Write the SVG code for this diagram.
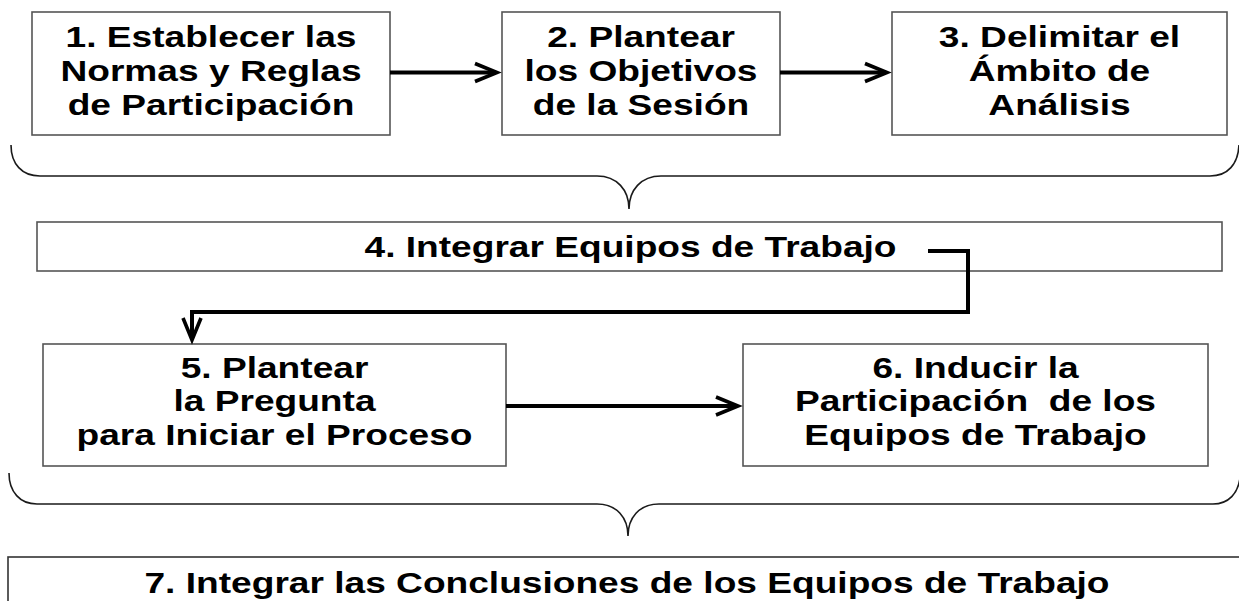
<svg xmlns="http://www.w3.org/2000/svg" width="1239" height="601" viewBox="0 0 1239 601">
<style>
  .box { fill: #ffffff; stroke: #555555; stroke-width: 1.6; }
  .lbl { font-family: "Liberation Sans", Arial, sans-serif; font-weight: bold; font-size: 29px; fill: #000000; text-anchor: middle; }
  .conn { fill: none; stroke: #000000; stroke-width: 4; }
  .brace { fill: none; stroke: #1a1a1a; stroke-width: 1.6; }
</style>
<defs>
  <marker id="arrow" markerUnits="userSpaceOnUse" markerWidth="34" markerHeight="26" refX="25" refY="13" orient="auto" overflow="visible">
    <path d="M4,4 L26,13 L4,22" fill="none" stroke="#000000" stroke-width="3.6"/>
  </marker>
</defs>
<rect x="0" y="0" width="1239" height="601" fill="#ffffff"/>

<g id="braces">
  <path class="brace" d="M11,145 C11,164 22,176 40,176 H597 C617,176 629,190 629,209 C629,190 641,176 661,176 H1210 C1228,176 1238,164 1239,145"/>
  <path class="brace" d="M9,473 C9,492 20,504 37,504 H597 C617,504 628,518 628,536 C628,518 639,504 659,504 H1213 C1229,504 1238,493 1240,478"/>
</g>

<g id="node1">
  <rect class="box" x="32" y="12" width="358" height="123"/>
  <text class="lbl" transform="matrix(1.28 0 0 1 211 0)"><tspan x="0" y="47">1. Establecer las</tspan><tspan x="0" y="81">Normas y Reglas</tspan><tspan x="0" y="115">de Participación</tspan></text>
</g>
<g id="node2">
  <rect class="box" x="502" y="12" width="278" height="123"/>
  <text class="lbl" transform="matrix(1.28 0 0 1 641 0)"><tspan x="0" y="47">2. Plantear</tspan><tspan x="0" y="81">los Objetivos</tspan><tspan x="0" y="115">de la Sesión</tspan></text>
</g>
<g id="node3">
  <rect class="box" x="892" y="12" width="335" height="123"/>
  <text class="lbl" transform="matrix(1.28 0 0 1 1059.5 0)"><tspan x="0" y="47">3. Delimitar el</tspan><tspan x="0" y="81">Ámbito de</tspan><tspan x="0" y="115">Análisis</tspan></text>
</g>
<g id="node4">
  <rect class="box" x="37" y="222" width="1185" height="49"/>
  <text class="lbl" transform="matrix(1.28 0 0 1 630.5 0)" x="0" y="257">4. Integrar Equipos de Trabajo</text>
</g>
<g id="node5">
  <rect class="box" x="43" y="344" width="463" height="122"/>
  <text class="lbl" transform="matrix(1.28 0 0 1 274.5 0)"><tspan x="0" y="378">5. Plantear</tspan><tspan x="0" y="411.5">la Pregunta</tspan><tspan x="0" y="445">para Iniciar el Proceso</tspan></text>
</g>
<g id="node6">
  <rect class="box" x="743" y="344" width="465" height="122"/>
  <text class="lbl" xml:space="preserve" transform="matrix(1.28 0 0 1 975.5 0)"><tspan x="0" y="378">6. Inducir la</tspan><tspan x="0" y="411.5">Participación  de los</tspan><tspan x="0" y="445">Equipos de Trabajo</tspan></text>
</g>
<g id="node7">
  <rect class="box" x="8" y="557" width="1245" height="60" style="stroke:#333333"/>
  <text class="lbl" transform="matrix(1.28 0 0 1 627 0)" x="0" y="593">7. Integrar las Conclusiones de los Equipos de Trabajo</text>
</g>

<g id="connectors">
  <path class="conn" d="M390,72.5 H496" marker-end="url(#arrow)"/>
  <path class="conn" d="M780,72.5 H886" marker-end="url(#arrow)"/>
  <path class="conn" d="M928,251 H968 V312 H192 V339" marker-end="url(#arrow)"/>
  <path class="conn" d="M506,406 H737" marker-end="url(#arrow)"/>
</g>
</svg>
